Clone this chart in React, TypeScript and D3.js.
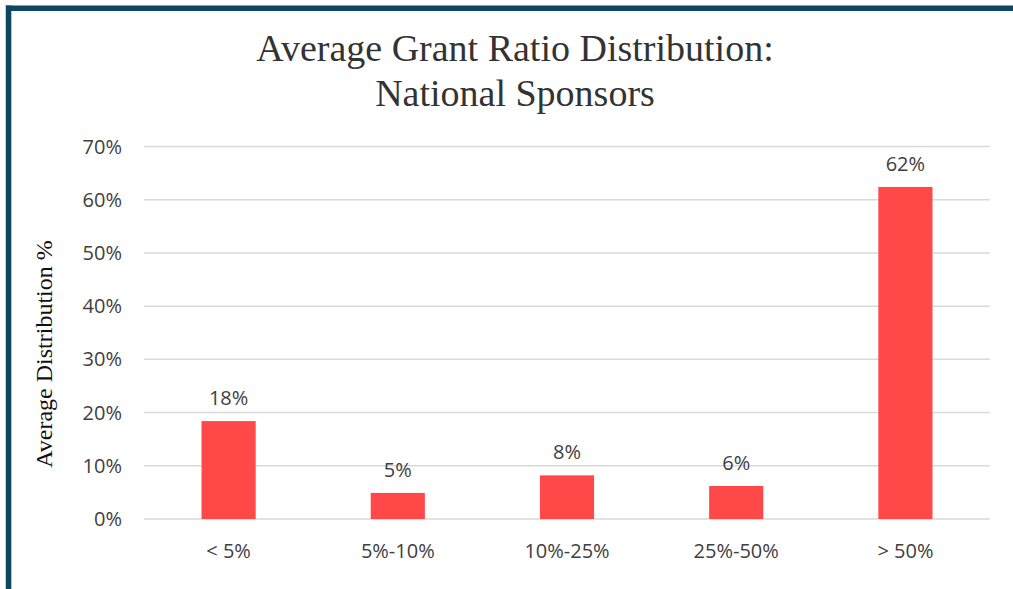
import React from "react";
import * as d3 from "d3";

const categories = ["< 5%", "5%-10%", "10%-25%", "25%-50%", "> 50%"];
const values = [18.4, 4.9, 8.2, 6.2, 62.4];
const labels = ["18%", "5%", "8%", "6%", "62%"];
const yTicks = [0, 10, 20, 30, 40, 50, 60, 70];
const titleLines = ["Average Grant Ratio Distribution:", "National Sponsors"];
const yTitle = "Average Distribution %";

export default function App() {
  const W = 1013, H = 589;
  const left = 144, right = 990, top = 146.5, bottom = 519;
  const x = d3.scaleBand<string>().domain(categories).range([left, right]).paddingInner(0.68).paddingOuter(0.34);
  const y = d3.scaleLinear().domain([0, 70]).range([bottom, top]);
  const sans = "'Open Sans', sans-serif";
  const serif = "'Liberation Serif', 'Times New Roman', serif";
  return (
    <svg width={W} height={H} style={{ position: "absolute", left: 0, top: 0, display: "block" }}>
      <rect x={0} y={0} width={W} height={H} fill="#fff" />
      <line x1={5.5} y1={5} x2={5.5} y2={H} stroke="#c8d2d8" strokeWidth={1} />
      <rect x={6} y={5.5} width={W - 6} height={5.5} fill="#0d4661" />
      <rect x={6} y={5.5} width={5.3} height={H - 5.5} fill="#0d4661" />
      {titleLines.map((t, i) => (
        <text key={i} x={515} y={61 + i * 45} textAnchor="middle" fontFamily={serif} fontSize={38} fill="#333">
          {t}
        </text>
      ))}
      {yTicks.map((t) => (
        <g key={t}>
          <line x1={left} x2={right} y1={y(t)} y2={y(t)} stroke="#d9d9d9" strokeWidth={1.5} />
          <text x={122} y={y(t) + 7} textAnchor="end" fontFamily={sans} fontSize={20} fill="#404040">
            {t}%
          </text>
        </g>
      ))}
      {categories.map((c, i) => (
        <g key={c}>
          <rect x={x(c)} y={y(values[i])} width={x.bandwidth()} height={y(0) - y(values[i])} fill="#ff4848" />
          <text x={(x(c) ?? 0) + x.bandwidth() / 2} y={y(values[i]) - 16} textAnchor="middle" fontFamily={sans} fontSize={20} fill="#404040">
            {labels[i]}
          </text>
          <text x={(x(c) ?? 0) + x.bandwidth() / 2} y={558} textAnchor="middle" fontFamily={sans} fontSize={20} fill="#404040">
            {c}
          </text>
        </g>
      ))}
      <text transform={`translate(52,${354}) rotate(-90)`} textAnchor="middle" fontFamily={serif} fontSize={24} fill="#111">
        {yTitle}
      </text>
    </svg>
  );
}
